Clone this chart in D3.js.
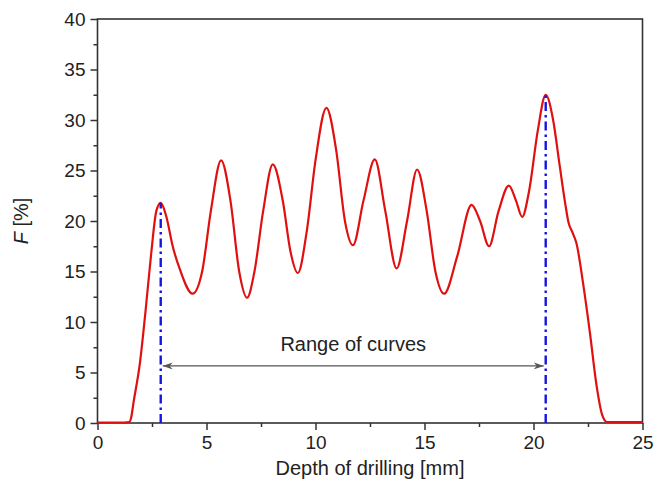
<!DOCTYPE html>
<html>
<head>
<meta charset="utf-8">
<script src="https://cdn.jsdelivr.net/npm/d3@7"></script>
<style>
  body { margin: 0; background: #fff; }
  #chart { width: 655px; height: 493px; }
  text { font-family: Arial, "Liberation Sans", sans-serif; fill: #222; }
</style>
</head>
<body>
<div id="chart"></div>
<script>

// Depth of drilling [mm]
var depth = [0, 1.0, 1.45, 1.55, 1.65, 1.95, 2.2, 2.45, 2.7, 2.9, 3.15, 3.45, 3.78, 4.36,
             4.8, 5.2, 5.67, 6.1, 6.5, 6.86, 7.2, 7.6, 8.04, 8.5, 8.85, 9.19,
             9.6, 10.0, 10.5, 10.95, 11.35, 11.72, 12.2, 12.72, 13.2, 13.72,
             14.2, 14.66, 15.1, 15.5, 15.9, 16.5, 17.16, 17.55, 17.96, 18.4,
             18.87, 19.2, 19.48, 19.8, 20.2, 20.56, 20.9, 21.2, 21.45, 21.6,
             21.8, 21.97, 22.27, 22.59, 22.9, 23.15, 23.37, 25];

// F [%]
var force = [0.05, 0.05, 0.1, 0.6, 2, 6, 11, 16.5, 21, 21.8, 20.5, 17.5, 15.2, 12.8,
             15, 21, 26.0, 22, 15, 12.4, 15, 21, 25.6, 22, 17, 14.85,
             19, 26, 31.2, 27, 20, 17.6, 22, 26.1, 21, 15.3,
             20, 25.1, 21, 15, 12.8, 16.5, 21.6, 20, 17.5, 21,
             23.5, 22, 20.4, 23, 29, 32.5, 30, 25.5, 21.8, 19.9,
             18.8, 17.8, 13.9, 8.9, 3.6, 0.8, 0.1, 0.1];

var xTicks = [0, 5, 10, 15, 20, 25];
var yTicks = [0, 5, 10, 15, 20, 25, 30, 35, 40];

// range markers (first and last peak) and label
var rangeBounds = [2.9, 20.56];
var rangePeaks  = [21.8, 32.5];
var rangeLevel  = 5.65;
var rangeLabel  = 'Range of curves';

var width  = 655,
    height = 493,
    margin = { left: 97.5, right: 12.5, top: 19, bottom: 70 };

var svg = d3.select('#chart')
            .append('svg')
            .attr('width', width)
            .attr('height', height);

var x = d3.scaleLinear()
          .domain([0, 25])
          .range([margin.left, width - margin.right]);

var y = d3.scaleLinear()
          .domain([0, 40])
          .range([height - margin.bottom, margin.top]);

var axisColor = '#333';

// minor ticks every 2.5
var minorX = d3.range(2.5, 25, 5),
    minorY = d3.range(2.5, 40, 5);

var gx = svg.append('g')
            .attr('transform', 'translate(0,' + y(0) + ')')
            .call(d3.axisBottom(x).tickValues(xTicks).tickSize(7).tickPadding(6).tickSizeOuter(0));

var gxMinor = svg.append('g')
                 .attr('transform', 'translate(0,' + y(0) + ')')
                 .call(d3.axisBottom(x).tickValues(minorX).tickSize(4).tickFormat('').tickSizeOuter(0));

var gy = svg.append('g')
            .attr('transform', 'translate(' + x(0) + ',0)')
            .call(d3.axisLeft(y).tickValues(yTicks).tickSize(7).tickPadding(5).tickSizeOuter(0));

var gyMinor = svg.append('g')
                 .attr('transform', 'translate(' + x(0) + ',0)')
                 .call(d3.axisLeft(y).tickValues(minorY).tickSize(4).tickFormat('').tickSizeOuter(0));

[gx, gxMinor, gy, gyMinor].forEach(function(g) {
  g.select('.domain').remove();
  g.selectAll('line').attr('stroke', axisColor).attr('stroke-width', 1.5);
  g.selectAll('text')
   .attr('font-size', 19)
   .attr('fill', '#222');
});

// frame around the plot area
svg.append('rect')
   .attr('x', x(0))
   .attr('y', y(40))
   .attr('width', x(25) - x(0))
   .attr('height', y(0) - y(40))
   .attr('fill', 'none')
   .attr('stroke', axisColor)
   .attr('stroke-width', 1.6);

// axis titles
svg.append('text')
   .attr('x', (x(0) + x(25)) / 2)
   .attr('y', 475)
   .attr('text-anchor', 'middle')
   .attr('font-size', 20)
   .text('Depth of drilling [mm]');

var yTitle = svg.append('text')
                .attr('transform', 'translate(28,' + ((y(0) + y(40)) / 2) + ') rotate(-90)')
                .attr('text-anchor', 'middle')
                .attr('font-size', 20);
yTitle.append('tspan').attr('font-style', 'italic').text('F');
yTitle.append('tspan').text(' [%]');

// curve
var points = depth.map(function(d, i) { return [d, force[i]]; });

var line = d3.line()
             .x(function(d) { return x(d[0]); })
             .y(function(d) { return y(d[1]); })
             .curve(d3.curveMonotoneX);

svg.append('path')
   .datum(points)
   .attr('d', line)
   .attr('fill', 'none')
   .attr('stroke', '#e01010')
   .attr('stroke-width', 2.2);

// blue dash-dot markers at the first and last peaks
svg.selectAll('.range-mark')
   .data(rangeBounds)
   .enter()
   .append('line')
   .attr('class', 'range-mark')
   .attr('x1', function(d) { return x(d); })
   .attr('x2', function(d) { return x(d); })
   .attr('y1', y(0))
   .attr('y2', function(d, i) { return y(rangePeaks[i]); })
   .attr('stroke', '#1515e0')
   .attr('stroke-width', 2.4)
   .attr('stroke-dasharray', '9,4,2.5,4');

// arrow between them
var defs = svg.append('defs');
['start', 'end'].forEach(function(k) {
  defs.append('marker')
      .attr('id', 'arrow-' + k)
      .attr('viewBox', '-10 -5 10 10')
      .attr('refX', 0)
      .attr('refY', 0)
      .attr('markerWidth', 10)
      .attr('markerHeight', 10)
      .attr('markerUnits', 'userSpaceOnUse')
      .attr('orient', 'auto-start-reverse')
      .append('path')
      .attr('d', 'M-10,-3.5L0,0L-10,3.5L-7,0Z')
      .attr('fill', '#555');
});

svg.append('line')
   .attr('x1', x(rangeBounds[0]) + 2)
   .attr('x2', x(rangeBounds[1]) - 2)
   .attr('y1', y(rangeLevel))
   .attr('y2', y(rangeLevel))
   .attr('stroke', '#555')
   .attr('stroke-width', 1.3)
   .attr('marker-start', 'url(#arrow-start)')
   .attr('marker-end', 'url(#arrow-end)');

svg.append('text')
   .attr('x', x((rangeBounds[0] + rangeBounds[1]) / 2))
   .attr('y', y(rangeLevel) - 15)
   .attr('text-anchor', 'middle')
   .attr('font-size', 20)
   .text(rangeLabel);

</script>
</body>
</html>
